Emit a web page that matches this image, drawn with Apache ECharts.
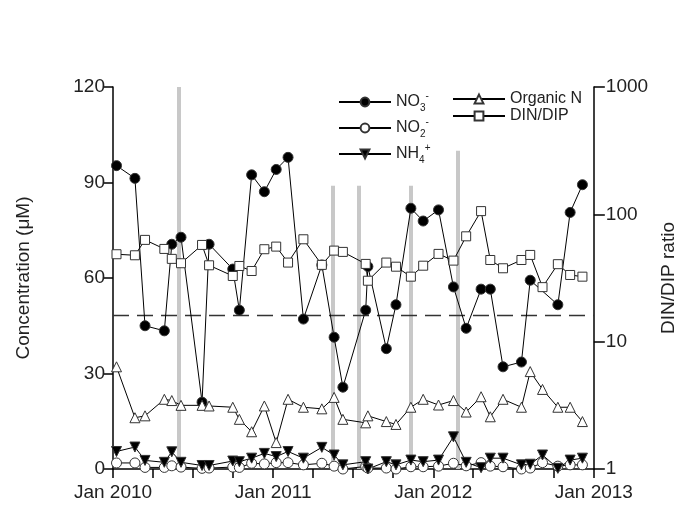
<!DOCTYPE html>
<html>
<head>
<meta charset="UTF-8">
<title>Nitrogen concentration and DIN/DIP</title>
<script src="https://cdn.jsdelivr.net/npm/echarts@6/dist/echarts.min.js"></script>
<style>
    html, body { margin: 0; padding: 0; background: #fff; }
    #main { width: 686px; height: 520px; }
</style>
</head>
<body>
<div id="main"></div>
<script>
    // sampling dates
    var sampleDates = [
        '2010-01-09', '2010-02-20', '2010-03-15', '2010-04-28', '2010-05-15', '2010-06-05',
        '2010-07-23', '2010-08-08', '2010-10-01', '2010-10-16', '2010-11-13', '2010-12-12',
        '2011-01-08', '2011-02-04', '2011-03-11', '2011-04-22', '2011-05-20', '2011-06-09',
        '2011-07-31', '2011-08-05', '2011-09-16', '2011-10-08', '2011-11-11', '2011-12-09',
        '2012-01-13', '2012-02-16', '2012-03-16', '2012-04-19', '2012-05-10', '2012-06-08',
        '2012-07-20', '2012-08-09', '2012-09-06', '2012-10-11', '2012-11-08', '2012-12-06'
    ];
    var no3 = [95.3, 91.3, 45.0, 43.4, 70.6, 72.8, 21.0, 70.6, 62.8, 49.9, 92.4, 87.1,
        94.1, 97.9, 47.1, 64.1, 41.4, 25.7, 49.9, 63.6, 37.8, 51.6, 81.9, 77.9,
        81.4, 57.2, 44.2, 56.5, 56.5, 32.1, 33.6, 59.3, null, 51.6, 80.6, 89.3];
    var no2 = [1.9, 1.9, 0.5, 0.5, 1.0, 0.6, 0.2, 0.3, 0.6, 0.5, 1.8, 1.6,
        2.0, 2.0, 1.3, 1.8, 0.9, 0.0, 0.8, 0.3, 0.3, 0.0, 0.7, 0.7,
        0.9, 1.8, 1.0, 2.0, 0.9, 0.7, 0.0, 0.3, 2.0, 0.9, 1.3, 1.3];
    var nh4 = [5.5, 6.9, 2.7, 2.1, 5.4, 2.1, 1.1, 1.1, 2.5, 2.3, 3.4, 4.9,
        3.9, 5.5, 3.4, 6.8, 4.4, 1.3, 2.3, 0.0, 2.3, 1.3, 2.8, 2.3,
        2.8, 10.1, 2.1, 0.4, 3.4, 3.4, 1.3, 1.5, 4.4, 0.2, 2.8, 3.4];
    var orgN = [32.1, 16.1, 16.7, 21.9, 21.5, 20.0, 20.0, 19.8, 19.4, 15.6, 11.7, 19.8,
        8.3, 21.9, 19.4, 18.9, 22.5, 15.6, 14.5, 16.7, 14.9, 14.0, 19.4, 21.9,
        20.1, 21.5, 17.9, 22.7, 16.4, 21.9, 19.4, 30.6, 25.0, 19.4, 19.4, 14.9];
    var dinDip = [48.6, 47.7, 63.0, 53.5, 44.7, 41.3, 57.5, 39.8, 32.8, 39.3, 35.9, 53.2,
        55.8, 41.8, 63.7, 40.1, 51.9, 50.7, 40.8, 30.1, 41.8, 38.8, 32.4, 39.5,
        48.9, 43.3, 67.2, 106, 43.8, 37.7, 43.8, 48.0, 26.8, 40.6, 33.4, 32.4];

    // grey event bars (height in left-axis units)
    var eventDates = ['2010-05-31', '2011-05-18', '2011-07-16', '2011-11-10', '2012-02-25'];
    var eventTops = [120, 89, 89, 89, 100];

    var redfield = 16;

    var legendNames = {
        'NO3-': '{m|NO}{sub|3}{sup|-}',
        'NO2-': '{m|NO}{sub|2}{sup|-}',
        'NH4+': '{m|NH}{sub|4}{sup|+}',
        'Organic N': '{m|Organic N}',
        'DIN/DIP': '{m|DIN/DIP}'
    };

    function pairs(vals) {
        return sampleDates.map(function (d, i) { return [d, vals[i]]; });
    }

    var font = 'Liberation Sans, Arial, sans-serif';
    var legendText = {
        fontFamily: font,
        rich: {
            m: { fontSize: 16, fontFamily: font, color: '#222', lineHeight: 22 },
            sub: { fontSize: 10, fontFamily: font, color: '#222', lineHeight: 10, verticalAlign: 'bottom' },
            sup: { fontSize: 10, fontFamily: font, color: '#222', lineHeight: 10, verticalAlign: 'top' }
        }
    };

    var myChart = echarts.init(document.getElementById('main'), null, { renderer: 'canvas' });

    var eventLines = eventDates.map(function (d, i) {
        return [{ coord: [d, 0] }, { coord: [d, eventTops[i]] }];
    });

    function lineSeries(name, vals, symbol, fill, extra) {
        var s = {
            name: name,
            type: 'line',
            data: pairs(vals),
            symbol: symbol,
            symbolSize: 10,
            connectNulls: true,
            z: 3,
            lineStyle: { color: '#000', width: 1 },
            itemStyle: { color: fill, borderColor: '#333', borderWidth: 1 }
        };
        for (var k in extra) s[k] = extra[k];
        return s;
    }

    var option = {
        backgroundColor: '#fff',
        animation: false,
        grid: { left: 113, right: 92, top: 87, bottom: 51 },
        legend: [{
            data: ['NO3-', 'NO2-', 'NH4+'],
            orient: 'vertical',
            left: 333, top: 86,
            itemWidth: 52, itemHeight: 11, itemGap: 4,
            formatter: function (n) { return legendNames[n]; },
            textStyle: legendText
        }, {
            data: ['Organic N', 'DIN/DIP'],
            orient: 'vertical',
            left: 447, top: 86,
            itemWidth: 52, itemHeight: 11, itemGap: 1,
            formatter: function (n) { return legendNames[n]; },
            textStyle: legendText
        }],
        xAxis: {
            type: 'time',
            min: '2010-01-01',
            max: '2013-01-01',
            splitNumber: 12,
            axisLine: { lineStyle: { color: '#000', width: 1.5 } },
            axisTick: { show: true, length: 9, lineStyle: { color: '#000', width: 1.5 } },
            splitLine: { show: false },
            axisLabel: {
                color: '#222', fontSize: 19, fontFamily: font, margin: 14,
                showMinLabel: true, showMaxLabel: true, hideOverlap: false,
                formatter: function (v) {
                    var d = new Date(v);
                    return d.getMonth() === 0 && d.getDate() === 1 ? 'Jan ' + d.getFullYear() : '';
                }
            }
        },
        yAxis: [{
            type: 'value',
            min: 0, max: 120, interval: 30,
            name: 'Concentration (\u03bcM)',
            nameLocation: 'middle',
            nameGap: 80,
            nameTextStyle: { color: '#222', fontSize: 19, fontFamily: font },
            axisLine: { show: true, lineStyle: { color: '#000', width: 1.5 } },
            axisTick: { show: true, length: 9, lineStyle: { color: '#000', width: 1.5 } },
            splitLine: { show: false },
            axisLabel: { color: '#222', fontSize: 19, fontFamily: font, margin: 8 }
        }, {
            type: 'log',
            logBase: 10,
            min: 1, max: 1000,
            position: 'right',
            name: 'DIN/DIP ratio',
            nameLocation: 'middle',
            nameRotate: 90,
            nameGap: 64,
            nameTextStyle: { color: '#222', fontSize: 19, fontFamily: font },
            axisLine: { show: true, lineStyle: { color: '#000', width: 1.5 } },
            axisTick: { show: true, length: 11, lineStyle: { color: '#000', width: 1.5 } },
            splitLine: { show: false },
            axisLabel: {
                color: '#222', fontSize: 19, fontFamily: font, margin: 12,
                formatter: function (v) { return String(Math.round(v)); }
            }
        }],
        series: [
            {
                name: 'events',
                type: 'line',
                data: [],
                z: 1,
                silent: true,
                markLine: {
                    silent: true,
                    z: 1,
                    symbol: ['none', 'none'],
                    label: { show: false },
                    lineStyle: { color: '#c8c8c8', width: 4, type: 'solid' },
                    data: eventLines
                }
            },
            lineSeries('NO3-', no3, 'circle', '#000', {}),
            lineSeries('NO2-', no2, 'circle', '#fff', {}),
            lineSeries('NH4+', nh4, 'triangle', '#000', { symbolRotate: 180 }),
            lineSeries('Organic N', orgN, 'triangle', '#fff', {}),
            lineSeries('DIN/DIP', dinDip, 'rect', '#fff', {
                yAxisIndex: 1,
                symbolSize: 9,
                markLine: {
                    silent: true,
                    z: 2,
                    symbol: ['none', 'none'],
                    label: { show: false },
                    lineStyle: { color: '#333', width: 1.3, type: [16, 8] },
                    data: [{ yAxis: redfield }]
                }
            })
        ]
    };
    myChart.setOption(option);
</script>
</body>
</html>
